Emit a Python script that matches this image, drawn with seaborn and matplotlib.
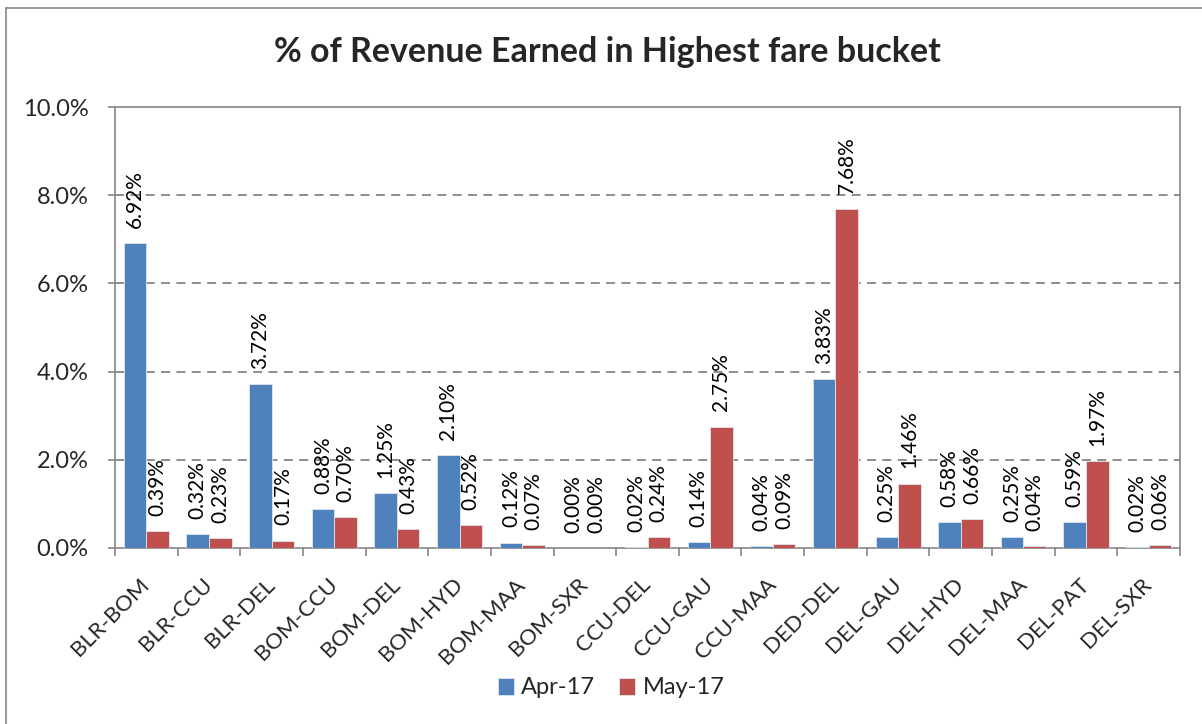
import pandas as pd
import seaborn as sns
import matplotlib.pyplot as plt
from matplotlib.lines import Line2D
import matplotlib.ticker as mticker

routes = ['BLR-BOM', 'BLR-CCU', 'BLR-DEL', 'BOM-CCU', 'BOM-DEL', 'BOM-HYD', 'BOM-MAA',
          'BOM-SXR', 'CCU-DEL', 'CCU-GAU', 'CCU-MAA', 'DED-DEL', 'DEL-GAU', 'DEL-HYD',
          'DEL-MAA', 'DEL-PAT', 'DEL-SXR']
apr_17 = [6.92, 0.32, 3.72, 0.88, 1.25, 2.10, 0.12, 0.00, 0.02, 0.14, 0.04, 3.83, 0.25,
          0.58, 0.25, 0.59, 0.02]
may_17 = [0.39, 0.23, 0.17, 0.70, 0.43, 0.52, 0.07, 0.00, 0.24, 2.75, 0.09, 7.68, 1.46,
          0.66, 0.04, 1.97, 0.06]
months = ['Apr-17', 'May-17']
y_ticks = [0, 2, 4, 6, 8, 10]

df = pd.DataFrame({
    'Route': routes * 2,
    'Share': apr_17 + may_17,
    'Month': [months[0]] * len(routes) + [months[1]] * len(routes),
})

sns.set_style('white')
plt.rcParams['font.family'] = ['Lato', 'DejaVu Sans']

grey = '#868686'
fig = plt.figure(figsize=(12.02, 7.24), dpi=100)
ax = fig.add_axes([115 / 1202, 1 - 548 / 724, 1065 / 1202, 441 / 724])

sns.barplot(data=df, x='Route', y='Share', hue='Month', palette=['#4F81BD', '#C0504D'],
            saturation=1, width=0.72, gap=0, edgecolor='#dfe6f0', linewidth=0.6,
            ax=ax, zorder=3)

# data labels
for cont, vals in zip(ax.containers, [apr_17, may_17]):
    ax.bar_label(cont, labels=[f'{v:.2f}%' for v in vals], rotation=90,
                 padding=11, fontsize=15, color='black')

ax.set_ylim(0, 10)
ax.set_xlim(-0.5, len(routes) - 0.5)
ax.set_yticks(y_ticks)
ax.yaxis.set_major_formatter(mticker.FuncFormatter(lambda v, p: f'{v:.1f}%'))
ax.set_xlabel('')
ax.set_ylabel('')

for v in y_ticks[1:-1]:
    ax.axhline(v, color=grey, lw=1.3, ls=(0, (5, 3.5)), zorder=1)

for s in ax.spines.values():
    s.set_color(grey)
    s.set_linewidth(1.2)
    s.set_visible(True)

ax.tick_params(axis='y', which='major', direction='out', length=5, width=1.2, color=grey,
               left=True, labelsize=17, pad=14)
ax.set_xticks(range(len(routes)))
ax.set_xticklabels(routes, rotation=45, ha='right', va='center', rotation_mode='anchor',
                   fontsize=16)
ax.tick_params(axis='x', which='major', length=0, pad=24)
ax.set_xticks([i + 0.5 for i in range(-1, len(routes))], minor=True)
ax.tick_params(axis='x', which='minor', direction='out', length=6, width=1.2, color=grey,
               bottom=True)

handles, labels = ax.get_legend_handles_labels()
ax.get_legend().remove()
fig.legend(handles, labels, loc='center', bbox_to_anchor=(611 / 1202, 1 - 688 / 724),
           ncol=2, frameon=False, fontsize=17, handlelength=0.7, handleheight=0.7,
           handletextpad=0.3, columnspacing=1.0)

fig.text(0.505, 1 - 52 / 724, '% of Revenue Earned in Highest fare bucket',
         ha='center', va='center', fontsize=24.5, fontweight='bold')

# outer chart border (left and top only visible)
fig.add_artist(Line2D([6 / 1202, 6 / 1202], [0, 1 - 8 / 724], color=grey, lw=1.2))
fig.add_artist(Line2D([6 / 1202, 1], [1 - 8 / 724, 1 - 8 / 724], color=grey, lw=1.2))

plt.savefig('out.png', dpi=100)
